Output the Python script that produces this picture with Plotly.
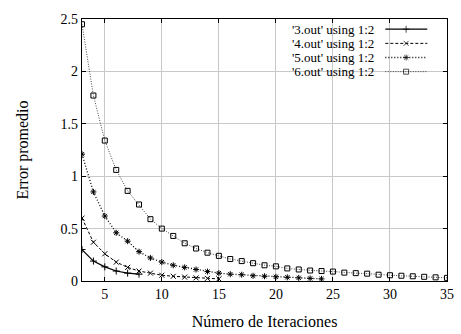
import plotly.graph_objects as go

# ---- data ----
x3 = [3, 4, 5, 6, 7, 8]
y3 = [0.30, 0.19, 0.135, 0.095, 0.075, 0.065]

x4 = [3, 4, 5, 6, 7, 8, 9, 10, 11, 12, 13, 14, 15]
y4 = [0.60, 0.37, 0.26, 0.18, 0.13, 0.095, 0.075, 0.055, 0.045, 0.037, 0.03, 0.025, 0.02]

x5 = list(range(3, 25))
y5 = [1.21, 0.85, 0.62, 0.46, 0.38, 0.28, 0.22, 0.18, 0.15, 0.13, 0.11, 0.09, 0.075,
      0.065, 0.06, 0.05, 0.045, 0.04, 0.035, 0.03, 0.025, 0.02]

x6 = list(range(3, 36))
y6 = [2.45, 1.77, 1.34, 1.06, 0.86, 0.73, 0.59, 0.50, 0.43, 0.36, 0.31, 0.27, 0.24,
      0.21, 0.19, 0.17, 0.15, 0.14, 0.12, 0.11, 0.10, 0.095, 0.09, 0.08, 0.075, 0.07,
      0.06, 0.055, 0.05, 0.045, 0.04, 0.035, 0.03]

names = ["'3.out' using 1:2", "'4.out' using 1:2", "'5.out' using 1:2", "'6.out' using 1:2"]
xticks = [5, 10, 15, 20, 25, 30, 35]
yticks = [0, 0.5, 1, 1.5, 2, 2.5]
yticklabels = ["0", "0.5", "1", "1.5", "2", "2.5"]

series = [(x3, y3), (x4, y4), (x5, y5), (x6, y6)]
styles = [
    dict(dash="solid", symbol="cross-thin-open", size=5, color="black", lw=1.2),
    dict(dash="3px,2px", symbol="x-thin-open", size=5, color="black", lw=1.0),
    dict(dash="1px,2px", symbol="asterisk-open", size=5, color="black", lw=1.3),
    dict(dash="1px,1.5px", symbol="square-open", size=5, color="#444444", lw=1.0),
]

FONT = "Liberation Serif, Times New Roman, serif"

fig = go.Figure()
for (xs, ys), nm, st in zip(series, names, styles):
    fig.add_trace(go.Scatter(
        x=xs, y=ys, name=nm, mode="lines+markers", showlegend=False,
        line=dict(color=st["color"], width=st["lw"], dash=st["dash"]),
        marker=dict(symbol=st["symbol"], size=st["size"], color="black",
                    line=dict(width=1, color="black")),
    ))

# ---- gnuplot-style key (text left, sample right) on an overlay axis ----
rows = [0.961, 0.907, 0.853, 0.799]
for nm, st, ry in zip(names, styles, rows):
    fig.add_trace(go.Scatter(
        x=[0.831, 0.888, 0.946], y=[ry, ry, ry], xaxis="x2", yaxis="y2",
        mode="lines+markers", showlegend=False, hoverinfo="skip",
        line=dict(color=st["color"], width=st["lw"], dash=st["dash"]),
        marker=dict(symbol=st["symbol"], size=[0, st["size"], 0], color="black",
                    line=dict(width=1, color="black")),
    ))
    fig.add_annotation(x=0.806, y=ry, xref="paper", yref="paper", text=nm,
                       showarrow=False, xanchor="right", yanchor="middle",
                       font=dict(family=FONT, size=13, color="black"))

# white box of the key hiding the grid
fig.add_shape(type="rect", xref="paper", yref="paper", x0=0.371, x1=0.970,
              y0=0.752, y1=0.997, fillcolor="white", line=dict(width=0), layer="between")

axis_common = dict(showline=True, linecolor="black", linewidth=1.3, mirror="ticks",
                   ticks="inside", ticklen=4, tickcolor="black",
                   showgrid=True, gridcolor="#c8c8c8", gridwidth=1, zeroline=False,
                   tickfont=dict(family=FONT, size=14, color="black"))

fig.update_layout(
    width=461, height=334,
    margin=dict(l=82, r=7, t=19, b=46),
    paper_bgcolor="white", plot_bgcolor="white",
    font=dict(family=FONT, color="black"),
    xaxis=dict(range=[3, 35], tickvals=xticks, ticktext=[str(v) for v in xticks],
               title=dict(text="Número de Iteraciones", font=dict(family=FONT, size=16), standoff=14),
               **axis_common),
    yaxis=dict(range=[0, 2.5], tickvals=yticks, ticktext=yticklabels,
               title=dict(text="Error promedio", font=dict(family=FONT, size=16), standoff=27),
               **axis_common),
    xaxis2=dict(range=[0, 1], overlaying="x", visible=False, fixedrange=True),
    yaxis2=dict(range=[0, 1], overlaying="y", visible=False, fixedrange=True),
)

fig.write_html("out.html", config={"displayModeBar": False},
               post_script="document.body.style.margin='0px';")
